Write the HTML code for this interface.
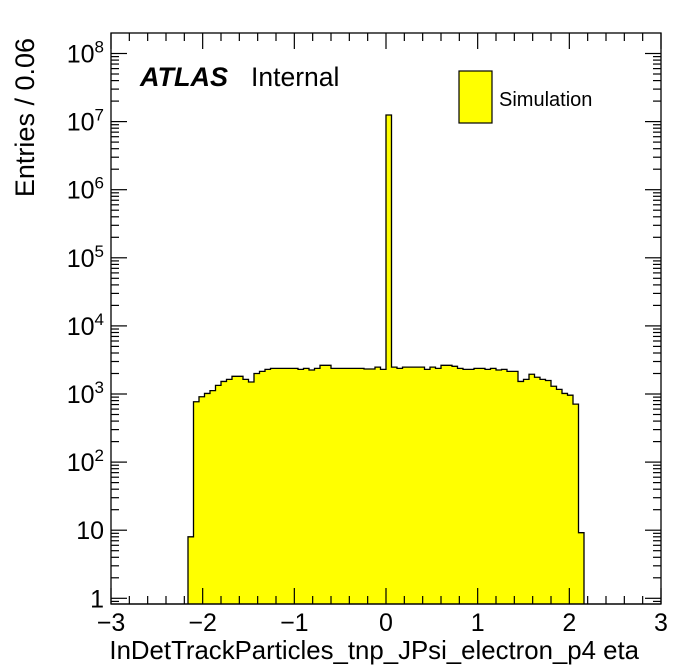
<!DOCTYPE html>
<html><head><meta charset="utf-8"><style>
body{margin:0;background:#fff;}
svg{display:block;font-family:"Liberation Sans",Arial,sans-serif;}
</style></head><body>
<svg id="c" width="696" height="672"></svg>
<script>
const binEdgesStart = -3;
const binWidth = 0.06;
const binCounts = [0,0,0,0,0,0,0,0,0,0,0,0,0,0,
 8,770,912,1020,1120,1340,1530,1640,1820,1820,1640,1500,2000,2150,2300,
 2380,2380,2380,2380,2380,2300,2380,2250,2380,2640,2640,
 2380,2380,2380,2380,2380,2380,2330,2330,2480,2300,12500000,
 2480,2380,2480,2480,2480,2480,2300,2480,2380,2640,2640,2550,2380,2300,2300,
 2380,2380,2300,2380,2250,2300,2150,2150,1530,1640,1950,1760,1640,1580,1300,1170,1020,960,710,9.2,
 0,0,0,0,0,0,0,0,0,0,0,0,0,0];
const xTicks = [-3,-2,-1,0,1,2,3];
const xTickLabels = ["\u22123","\u22122","\u22121","0","1","2","3"];
const yDecades = [0,1,2,3,4,5,6,7,8];

const NS="http://www.w3.org/2000/svg";
const svg=document.getElementById('c');
const L=111,R=661,T=33,B=604;
const X=v=>L+(v+3)/6*(R-L);
const Y=v=>598.3-68.1*Math.log10(v);
function el(t,a,p){const e=document.createElementNS(NS,t);for(const k in a)e.setAttribute(k,a[k]);(p||svg).appendChild(e);return e;}

let d=`M${X(binEdgesStart)},${B}`;
binCounts.forEach((c,i)=>{const x0=X(binEdgesStart+i*binWidth),x1=X(binEdgesStart+(i+1)*binWidth);const y=c>0?Math.max(T,Math.min(B,Y(c))):B;d+=` L${x0},${y} L${x1},${y}`;});
d+=` L${R},${B} Z`;
const h=el('path',{d:d,fill:'#ffff00',stroke:'#000','stroke-width':1.3});



const f=el('rect',{x:L,y:T,width:R-L,height:B-T,fill:'none',stroke:'#000','stroke-width':1.3});



const g=el('g',{stroke:'#000','stroke-width':1.2});


for(let i=0;i<=30;i++){const v=-3+i*0.2;const len=(i%5===0)?16:8;const x=X(v);
 el('line',{x1:x,y1:B,x2:x,y2:B-len},g);el('line',{x1:x,y1:T,x2:x,y2:T+len},g);}
yDecades.forEach(e=>{for(let m=1;m<=9;m++){const v=m*Math.pow(10,e);const y=Y(v);if(y<T||y>B)continue;const len=m===1?16:8;
 el('line',{x1:L,y1:y,x2:L+len,y2:y},g);el('line',{x1:R,y1:y,x2:R-len,y2:y},g);}});
{const y=Y(0.9);if(y<B){el('line',{x1:L,y1:y,x2:L+8,y2:y},g);el('line',{x1:R,y1:y,x2:R-8,y2:y},g);}}

xTicks.forEach((v,i)=>{const t=el('text',{x:X(v),y:631,'font-size':25,'text-anchor':'middle'});t.textContent=xTickLabels[i];
 
 });
yDecades.forEach(e=>{const y=Y(Math.pow(10,e));const t=el('text',{x:104,y:y+9,'font-size':25,'text-anchor':'end'});
 if(e===0)t.textContent='1';else if(e===1)t.textContent='10';else{t.textContent='10';const s=el('tspan',{dy:-10,'font-size':17},t);s.textContent=e;}
 
 });

const xt=el('text',{x:639,y:659,'font-size':25.8,'text-anchor':'end'});xt.textContent='InDetTrackParticles_tnp_JPsi_electron_p4 eta';


const yt=el('text',{x:0,y:0,'font-size':27,'text-anchor':'end',transform:'translate(34,38) rotate(-90)'});yt.textContent='Entries / 0.06';



const at=el('text',{x:140,y:86,'font-size':27,'font-weight':'bold','font-style':'italic'});at.textContent='ATLAS';


const it=el('text',{x:251,y:86,'font-size':26.5});it.textContent='Internal';



const lb=el('rect',{x:459,y:71,width:33,height:52,fill:'#ffff00',stroke:'#000','stroke-width':1.2});


const lt=el('text',{x:499,y:106,'font-size':20});lt.textContent='Simulation';


</script>
</body></html>
